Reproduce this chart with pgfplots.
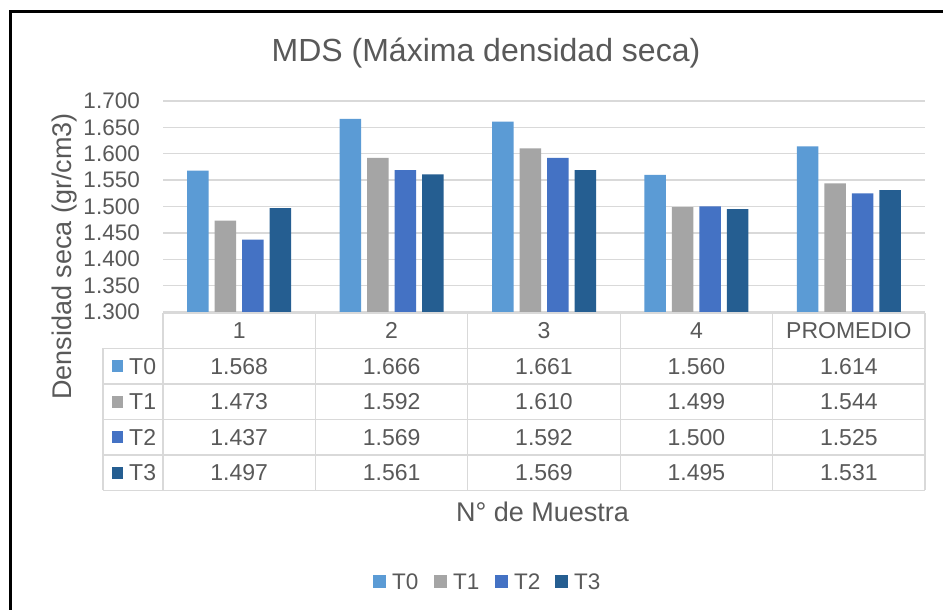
\documentclass[border=0pt]{standalone}
\usepackage{fontspec}
\setmainfont{Liberation Sans}
\usepackage{pgfplots}
\usepackage{pgfplotstable}
\pgfplotsset{compat=1.18}

\definecolor{cT0}{HTML}{5B9BD5}
\definecolor{cT1}{HTML}{A5A5A5}
\definecolor{cT2}{HTML}{4472C4}
\definecolor{cT3}{HTML}{255E91}
\definecolor{txt}{HTML}{595959}
\definecolor{gridc}{HTML}{D9D9D9}

\newcommand\ftab{\fontsize{23bp}{27bp}\selectfont}

% MDS per sample (x = 0..3 muestras, 4 = promedio)
\pgfplotstableread{
x T0    T1    T2    T3
0 1.568 1.473 1.437 1.497
1 1.666 1.592 1.569 1.561
2 1.661 1.610 1.592 1.569
3 1.560 1.499 1.500 1.495
4 1.614 1.544 1.525 1.531
}\mdsdata

\begin{document}
\begin{tikzpicture}[x=1bp,y=1bp]
\useasboundingbox (0,0) rectangle (943,610);
\fill[white] (0,0) rectangle (943,610);
\draw[line width=3bp] (10.3,0) -- (10.3,598.7) -- (943,598.7);

\begin{axis}[
  at={(163bp,298bp)}, anchor=south west,
  scale only axis, width=762bp, height=211bp,
  xmin=-0.5, xmax=4.5, ymin=1.3, ymax=1.7,
  ybar=6bp, bar width=21.5bp,
  xtick=\empty,
  ytick={1.3,1.35,1.4,1.45,1.5,1.55,1.6,1.65,1.7},
  axis line style={draw=none},
  major tick length=0pt,
  ymajorgrids, grid style={draw=gridc, line width=1.3bp},
  yticklabel style={font=\fontsize{22.5bp}{27bp}\selectfont, text=txt,
    anchor=east, inner sep=0pt, xshift=-23bp,
    /pgf/number format/fixed, /pgf/number format/fixed zerofill,
    /pgf/number format/precision=3, /pgf/number format/assume math mode=true},
]
\addplot[fill=cT0, draw=none] table[x=x, y=T0] {\mdsdata};
\addplot[fill=cT1, draw=none] table[x=x, y=T1] {\mdsdata};
\addplot[fill=cT2, draw=none] table[x=x, y=T2] {\mdsdata};
\addplot[fill=cT3, draw=none] table[x=x, y=T3] {\mdsdata};
\end{axis}

% data table below the plot
\begin{scope}[draw=gridc, line width=1.3bp]
\draw (163,297) -- (925,297);
\foreach \r in {0,...,4} \draw (103,{261.5-35.5*\r}) -- (925,{261.5-35.5*\r});
\foreach \c in {0,...,5} \draw ({163+152.4*\c},297) -- ({163+152.4*\c},119.5);
\draw (103,261.5) -- (103,119.5);
\end{scope}

\foreach \n [count=\i from 0] in {1,2,3,4,PROMEDIO}
  \node[text=txt, font=\ftab] at ({163+152.4*\i+76.2},279.25) {\n};

\foreach \s/\c in {0/cT0,1/cT1,2/cT2,3/cT3}{
  \pgfmathsetmacro\yy{261.5-35.5*\s-17.75}
  \fill[\c] (112,{\yy-6}) rectangle (123,{\yy+6});
  \node[anchor=west, inner sep=0pt, text=txt, font=\ftab] at (129,\yy) {T\s};
  \foreach \r in {0,...,4}{
    \pgfplotstablegetelem{\r}{T\s}\of\mdsdata
    \node[text=txt, font=\ftab] at ({163+152.4*\r+76.2},\yy) {\pgfplotsretval};
  }
}

% legend
\foreach \s/\c/\lx in {0/cT0/373,1/cT1/434,2/cT2/495,3/cT3/555}{
  \fill[\c] (\lx,22) rectangle ({\lx+13},35);
  \node[anchor=west, inner sep=0pt, text=txt, font=\fontsize{22.5bp}{27bp}\selectfont] at ({\lx+19},28.5) {T\s};
}

\node[anchor=base, text=txt, font=\fontsize{32bp}{38bp}\selectfont] at (486,548) {MDS (Máxima densidad seca)};
\node[anchor=base, text=txt, font=\fontsize{27bp}{32bp}\selectfont] at (542.5,88) {N° de Muestra};
\node[anchor=base, rotate=90, text=txt, font=\fontsize{27bp}{32bp}\selectfont] at (71.7,353.5) {Densidad seca (gr/cm3)};
\end{tikzpicture}
\end{document}
